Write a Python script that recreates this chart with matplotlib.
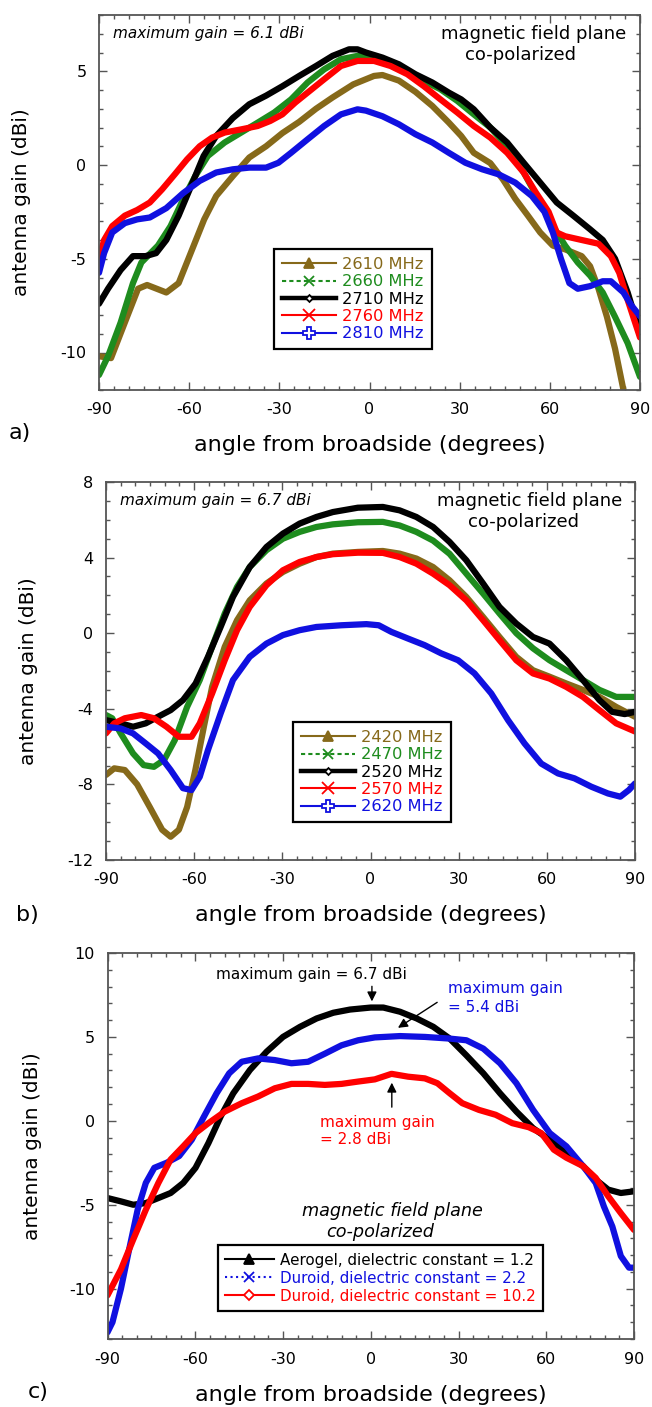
import matplotlib
matplotlib.use("Agg")
import matplotlib.pyplot as plt
from matplotlib.lines import Line2D
import numpy as np

plt.rcParams['font.family'] = ['DejaVu Sans']
plt.rcParams['axes.unicode_minus'] = False

# ---------------- Panel a data ----------------
a_labels = ["2610 MHz", "2660 MHz", "2710 MHz", "2760 MHz", "2810 MHz"]
a_2610_x = [-90, -86, -81.4, -77, -74, -67.6, -63.5, -60, -55, -51, -45.5, -40, -34.4, -29, -23.4, -17.8, -12.3, -5.4, 1.5, 4.3, 9.8, 15.3, 20.9, 26.4, 30.5, 34.7, 40.2, 44.4, 48.5, 52.7, 56.8, 61, 65.1, 70.6, 73.4, 76.2, 79, 81.7, 84.5]
a_2610_y = [-10.2, -10.3, -8.4, -6.6, -6.4, -6.8, -6.3, -4.9, -2.9, -1.65, -0.6, 0.4, 1.0, 1.7, 2.3, 3.0, 3.6, 4.3, 4.75, 4.8, 4.5, 3.9, 3.15, 2.26, 1.55, 0.65, 0.1, -0.77, -1.8, -2.7, -3.6, -4.3, -4.5, -4.86, -5.4, -6.6, -8.1, -9.8, -12.0]
a_2660_x = [-90, -87, -82.8, -78.7, -75.9, -70.4, -66.2, -62, -58, -53.8, -48.2, -42.7, -37.2, -31.7, -26.1, -20.6, -15.1, -9.5, -4, 1.5, 7, 12.6, 18.1, 23.6, 29.2, 34.7, 40.2, 45.8, 51.3, 56.8, 61, 65.1, 69.3, 73.4, 77.6, 81.7, 85.9, 90]
a_2660_y = [-11.2, -10.2, -8.4, -6.3, -5.2, -4.3, -3.26, -1.83, -0.6, 0.48, 1.2, 1.73, 2.26, 2.8, 3.5, 4.4, 5.1, 5.64, 5.82, 5.73, 5.46, 5.0, 4.48, 4.04, 3.42, 2.7, 2.0, 1.0, -0.4, -2.0, -3.26, -4.3, -5.2, -5.9, -6.8, -8.1, -9.5, -11.3]
a_2710_x = [-90, -87, -82.8, -78.7, -74.5, -71, -67.6, -63.5, -59.3, -55.2, -51, -45.5, -40, -34.4, -29, -23.4, -17.8, -12.3, -6.8, -4, -1.2, 4.3, 9.8, 15.3, 20.9, 26.4, 30.5, 34.7, 40.2, 45.8, 51.3, 56.8, 62.3, 67.8, 73.4, 77.6, 81.7, 85.9, 90]
a_2710_y = [-7.4, -6.6, -5.6, -4.86, -4.86, -4.7, -4.0, -2.7, -1.1, 0.48, 1.55, 2.5, 3.24, 3.7, 4.2, 4.75, 5.28, 5.82, 6.17, 6.17, 6.0, 5.73, 5.37, 4.84, 4.4, 3.86, 3.5, 2.97, 2.0, 1.2, 0.12, -0.94, -2.0, -2.7, -3.43, -4.0, -5.0, -6.8, -8.95]
a_2760_x = [-90, -88.3, -85.6, -81.4, -77.3, -73.1, -69, -64.8, -60.7, -56.5, -52.4, -48.2, -42.7, -37.2, -33, -29, -24.7, -20.6, -15.1, -9.5, -4, 1.5, 7, 12.6, 18.1, 23.6, 29.2, 34.7, 40.2, 45.8, 51.3, 55.4, 59.6, 62.3, 65.1, 70.6, 76.2, 80.3, 83.1, 85.9, 90]
a_2760_y = [-5.0, -4.0, -3.26, -2.7, -2.4, -2.0, -1.3, -0.5, 0.3, 1.0, 1.46, 1.73, 1.9, 2.08, 2.35, 2.7, 3.33, 3.86, 4.57, 5.28, 5.55, 5.55, 5.28, 4.84, 4.2, 3.5, 2.8, 2.08, 1.46, 0.65, -0.4, -1.48, -2.5, -3.6, -3.8, -4.0, -4.2, -4.86, -5.75, -7.2, -9.2]
a_2810_x = [-90, -88.3, -85.6, -81.4, -77.3, -73.1, -67.6, -62, -56.5, -51, -45.5, -40, -34.4, -30.3, -26.1, -20.6, -15.1, -9.5, -4, -1.2, 4.3, 9.8, 15.3, 20.9, 26.4, 31.9, 37.5, 43, 48.5, 54, 58.2, 61, 63.7, 66.5, 69.3, 73.4, 77.6, 80.3, 84.5, 87.2, 90]
a_2810_y = [-5.75, -4.7, -3.6, -3.1, -2.9, -2.8, -2.3, -1.5, -0.85, -0.4, -0.23, -0.14, -0.14, 0.12, 0.65, 1.37, 2.08, 2.7, 2.97, 2.9, 2.6, 2.17, 1.64, 1.2, 0.65, 0.12, -0.23, -0.5, -0.94, -1.65, -2.5, -3.6, -5.0, -6.3, -6.6, -6.46, -6.2, -6.2, -6.8, -7.5, -8.06]

# ---------------- Panel b data ----------------
b_labels = ["2420 MHz", "2470 MHz", "2520 MHz", "2570 MHz", "2620 MHz"]
b_2420_x = [-90, -87.2, -83.6, -79.4, -75.1, -70.9, -68, -65.2, -62.4, -59.6, -56.7, -53.9, -49.6, -45.4, -41.1, -35.4, -29.8, -24.1, -18.4, -12.8, -4.3, 4.2, 9.9, 15.6, 21.3, 26.9, 32.6, 38.3, 43.9, 49.6, 55.3, 60.9, 66.6, 72.3, 77.9, 83.6, 90]
b_2420_y = [-7.5, -7.15, -7.24, -8.0, -9.2, -10.4, -10.77, -10.4, -9.2, -7.24, -4.95, -2.84, -0.72, 0.69, 1.74, 2.63, 3.24, 3.68, 4.03, 4.21, 4.3, 4.35, 4.21, 3.95, 3.5, 2.8, 1.92, 0.86, -0.2, -1.25, -1.96, -2.3, -2.66, -3.0, -3.37, -3.9, -4.42]
b_2470_x = [-90, -87.9, -85, -80.8, -77.2, -73.7, -70.2, -66.6, -62.4, -58.1, -53.9, -49.6, -45.4, -41.1, -35.4, -29.8, -24.1, -18.4, -12.8, -4.3, 4.2, 9.9, 15.6, 21.3, 26.9, 32.6, 38.3, 43.9, 49.6, 55.3, 60.9, 66.6, 72.3, 77.9, 83.6, 90]
b_2470_y = [-4.33, -4.5, -5.3, -6.36, -6.98, -7.07, -6.7, -5.66, -3.9, -2.48, -0.72, 1.04, 2.45, 3.5, 4.39, 5.0, 5.36, 5.62, 5.76, 5.87, 5.89, 5.7, 5.36, 4.9, 4.2, 3.15, 2.1, 1.04, 0.0, -0.8, -1.43, -1.96, -2.48, -3.0, -3.37, -3.37]
b_2520_x = [-90, -85, -80.8, -76.5, -72.3, -68, -63.8, -59.5, -55.3, -51, -46.8, -41.1, -35.4, -29.8, -24.1, -18.4, -12.8, -4.3, 4.2, 9.9, 15.6, 21.3, 26.9, 32.6, 38.3, 43.9, 49.6, 55.3, 60.9, 66.6, 72.3, 77.9, 82.2, 86.5, 90]
b_2520_y = [-4.6, -4.77, -4.95, -4.77, -4.42, -4.07, -3.54, -2.66, -1.25, 0.33, 1.92, 3.5, 4.56, 5.27, 5.8, 6.15, 6.41, 6.64, 6.68, 6.5, 6.15, 5.62, 4.83, 3.86, 2.63, 1.39, 0.51, -0.2, -0.55, -1.43, -2.48, -3.54, -4.16, -4.28, -4.16]
b_2570_x = [-90, -87.2, -83.6, -78, -73.7, -69.4, -65.2, -60.9, -58.1, -53.9, -49.6, -45.4, -41.1, -35.4, -29.8, -24.1, -18.4, -12.8, -4.3, 4.2, 9.9, 15.6, 21.3, 26.9, 32.6, 38.3, 43.9, 49.6, 55.3, 60.9, 66.6, 72.3, 77.9, 83.6, 90]
b_2570_y = [-5.3, -4.77, -4.5, -4.33, -4.5, -4.95, -5.48, -5.48, -4.77, -3.19, -1.43, 0.16, 1.39, 2.54, 3.33, 3.77, 4.03, 4.18, 4.26, 4.25, 4.03, 3.68, 3.15, 2.54, 1.74, 0.69, -0.37, -1.43, -2.13, -2.4, -2.84, -3.37, -4.07, -4.77, -5.2]
b_2620_x = [-90, -85, -80.8, -76.5, -72.3, -68, -63.8, -60.9, -58.1, -55.3, -51, -46.8, -41.1, -35.4, -29.8, -24.1, -18.4, -9.9, -1.4, 2.8, 7.1, 12.7, 18.4, 24.1, 29.8, 35.4, 41.1, 46.8, 52.4, 58.1, 63.8, 69.4, 75.1, 80.8, 85, 87.9, 90]
b_2620_y = [-4.95, -5.04, -5.3, -5.83, -6.36, -7.24, -8.2, -8.3, -7.6, -6.18, -4.25, -2.48, -1.25, -0.55, -0.1, 0.16, 0.33, 0.42, 0.48, 0.42, 0.07, -0.28, -0.63, -1.07, -1.43, -2.13, -3.19, -4.6, -5.83, -6.9, -7.42, -7.68, -8.12, -8.48, -8.65, -8.3, -7.95]

# ---------------- Panel c data ----------------
c_labels = ["Aerogel, dielectric constant = 1.2", "Duroid, dielectric constant = 2.2", "Duroid, dielectric constant = 10.2"]
c_aero_x = [-90, -85.4, -81.2, -76.9, -72.6, -68.4, -64.1, -59.9, -55.5, -51.3, -47, -41.3, -35.6, -30, -24.2, -18.5, -12.8, -7.1, 0, 4.3, 10, 15.7, 21.4, 27, 32.7, 38.5, 44.2, 49.8, 55.5, 61.2, 66.9, 72.6, 76.9, 81.2, 85.5, 90]
c_aero_y = [-4.6, -4.8, -5.0, -4.9, -4.6, -4.3, -3.7, -2.8, -1.33, 0.26, 1.64, 3.03, 4.12, 5.0, 5.6, 6.1, 6.44, 6.63, 6.75, 6.75, 6.5, 6.1, 5.6, 4.9, 3.9, 2.83, 1.64, 0.55, -0.44, -1.13, -1.92, -2.7, -3.5, -4.1, -4.3, -4.2]
c_d22_x = [-90, -88.3, -85.4, -82.6, -79.7, -76.9, -74, -69.8, -65.5, -61.2, -57, -52.7, -48.4, -44.1, -38.5, -32.8, -27.1, -21.4, -15.7, -10, -4.3, 1.4, 10, 18.5, 27, 32.7, 38.5, 44.2, 49.8, 55.5, 61.2, 66.9, 72.6, 76.9, 79.7, 82.6, 85.5, 88.3, 90]
c_d22_y = [-12.6, -12.0, -10.0, -7.66, -5.3, -3.7, -2.8, -2.5, -2.1, -1.13, 0.26, 1.64, 2.83, 3.52, 3.72, 3.62, 3.43, 3.52, 4.0, 4.5, 4.8, 4.97, 5.05, 5.0, 4.9, 4.8, 4.3, 3.43, 2.24, 0.65, -0.73, -1.52, -2.7, -3.7, -5.1, -6.3, -8.06, -8.75, -8.75]
c_d102_x = [-90, -85.4, -81.2, -76.9, -72.6, -68.4, -64.1, -59.9, -55.5, -49.9, -44.1, -38.5, -32.8, -27.1, -21.4, -15.7, -10, -4.3, 1.4, 7.1, 12.8, 18.5, 22.8, 27, 31.3, 37, 42.7, 48.4, 54, 58.3, 62.6, 66.9, 72.6, 76.9, 81.2, 85.5, 90]
c_d102_y = [-10.4, -8.85, -7.07, -5.3, -3.7, -2.3, -1.52, -0.73, -0.14, 0.55, 1.05, 1.45, 1.94, 2.2, 2.2, 2.14, 2.2, 2.34, 2.47, 2.8, 2.63, 2.53, 2.24, 1.64, 1.05, 0.65, 0.36, -0.14, -0.38, -0.73, -1.72, -2.2, -2.7, -3.4, -4.5, -5.5, -6.5]

OLIVE = '#86691A'
GREEN = '#1E8C1E'
BLACK = '#000000'
RED = '#FF0000'
BLUE = '#1010E0'
SPINE = '#555555'

fig = plt.figure(figsize=(6.52, 14.07), dpi=100)
W, H = 652.0, 1407.0

def make_ax(left, top, right, bottom):
    return fig.add_axes([left / W, 1 - bottom / H, (right - left) / W, (bottom - top) / H])

def style_ax(ax, ylim, ymaj, ymin, xlab_y, ylab_x):
    ax.set_xlim(-90, 90)
    ax.set_ylim(*ylim)
    ax.set_xticks(np.arange(-90, 91, 30))
    ax.set_xticks(np.arange(-90, 91, 5), minor=True)
    ax.set_yticks(np.arange(ymaj[0], ymaj[1] + 0.1, ymaj[2]))
    ax.set_yticks(np.arange(ylim[0], ylim[1] + 0.1, ymin), minor=True)
    ax.tick_params(which='both', direction='in', top=True, right=True, color=SPINE, width=1.0,
                   labelsize=11.5, pad=9)
    ax.tick_params(which='major', length=5.5)
    ax.tick_params(which='minor', length=3.2)
    for s in ax.spines.values():
        s.set_color(SPINE)
        s.set_linewidth(1.3)
    ax.set_xlabel("angle from broadside (degrees)", fontsize=16)
    ax.set_ylabel("antenna gain (dBi)", fontsize=14.5)
    ax.xaxis.set_label_coords(0.5, xlab_y)
    ax.xaxis.label.set_verticalalignment('center')
    ax.yaxis.set_label_coords(ylab_x, 0.5)
    ax.yaxis.label.set_verticalalignment('center')

LW = 4.5

def legend_handles(styles):
    hs = []
    for c, ls, lw, mk, ms, mfc in styles:
        hs.append(Line2D([0], [0], color=c, ls=ls, lw=lw, marker=mk, ms=ms, mfc=mfc, mec=c, mew=1.3))
    return hs

def add_legend(ax, labels, styles, cols, anchor, fs, hl, ls):
    leg = ax.legend(legend_handles(styles), labels, loc='upper left', bbox_to_anchor=anchor,
                    borderaxespad=0, frameon=True, fancybox=False, edgecolor='black',
                    fontsize=fs, handlelength=hl, handletextpad=0.4, labelspacing=ls,
                    borderpad=0.5, numpoints=1, framealpha=1)
    leg.get_frame().set_linewidth(1.6)
    for t, c in zip(leg.get_texts(), cols):
        t.set_color(c)
    return leg

ab_styles = [(OLIVE, '-', 1.5, '^', 7, OLIVE), (GREEN, (0, (2, 1.5)), 1.5, 'x', 7, GREEN),
             (BLACK, '-', 3.2, 'D', 3.5, 'white'), (RED, '-', 1.5, 'x', 8, RED),
             (BLUE, '-', 1.5, 'P', 8, 'white')]
cols_ab = [OLIVE, GREEN, BLACK, RED, BLUE]

# ---------- Panel a ----------
axa = make_ax(99, 15, 640, 390)
style_ax(axa, (-12, 8), (-10, 5, 5), 1, (390 - 445) / 375, -0.144)
a_series = [(a_2610_x, a_2610_y, OLIVE), (a_2660_x, a_2660_y, GREEN), (a_2710_x, a_2710_y, BLACK),
            (a_2760_x, a_2760_y, RED), (a_2810_x, a_2810_y, BLUE)]
for xs, ys, c in a_series:
    axa.plot(xs, ys, color=c, lw=LW, solid_capstyle='round', solid_joinstyle='round')
axa.text(0.026, 0.95, "maximum gain = 6.1 dBi", transform=axa.transAxes, style='italic',
         fontsize=11, ha='left', va='center')
axa.text(0.975, 0.95, "magnetic field plane", transform=axa.transAxes, fontsize=13, ha='right', va='center')
axa.text(0.78, 0.893, "co-polarized", transform=axa.transAxes, fontsize=13, ha='center', va='center')
fig.text(20 / W, 1 - 433 / H, "a)", fontsize=16, ha='center', va='center')
add_legend(axa, a_labels, ab_styles, cols_ab, ((274 - 99) / 541, (390 - 249) / 375), 11.7, 3.3, 0.14)

# ---------- Panel b ----------
axb = make_ax(106, 482, 635, 860)
style_ax(axb, (-12, 8), (-12, 8, 4), 1, (860 - 915) / 378, -0.147)
b_series = [(b_2420_x, b_2420_y, OLIVE), (b_2470_x, b_2470_y, GREEN), (b_2520_x, b_2520_y, BLACK),
            (b_2570_x, b_2570_y, RED), (b_2620_x, b_2620_y, BLUE)]
for xs, ys, c in b_series:
    axb.plot(xs, ys, color=c, lw=LW, solid_capstyle='round', solid_joinstyle='round')
axb.text(0.026, 0.95, "maximum gain = 6.7 dBi", transform=axb.transAxes, style='italic',
         fontsize=11, ha='left', va='center')
axb.text(0.975, 0.95, "magnetic field plane", transform=axb.transAxes, fontsize=13, ha='right', va='center')
axb.text(0.79, 0.893, "co-polarized", transform=axb.transAxes, fontsize=13, ha='center', va='center')
fig.text(27 / W, 1 - 915 / H, "b)", fontsize=16, ha='center', va='center')
add_legend(axb, b_labels, ab_styles, cols_ab, ((293 - 106) / 529, (860 - 722) / 378), 11.7, 3.3, 0.14)

# ---------- Panel c ----------
axc = make_ax(107.5, 953, 634, 1339)
style_ax(axc, (-13, 10), (-10, 10, 5), 1, (1339 - 1395) / 386, -0.142)
c_series = [(c_aero_x, c_aero_y, BLACK), (c_d22_x, c_d22_y, BLUE), (c_d102_x, c_d102_y, RED)]
for xs, ys, c in c_series:
    axc.plot(xs, ys, color=c, lw=LW, solid_capstyle='round', solid_joinstyle='round')
axc.text(-20.4, 8.7, "maximum gain = 6.7 dBi", fontsize=11, ha='center', va='center', color=BLACK)
axc.annotate("", xy=(0.4, 6.95), xytext=(0.4, 8.18),
             arrowprops=dict(arrowstyle='-|>', color='black', lw=1, mutation_scale=14))
axc.text(26.4, 7.91, "maximum gain", fontsize=11, ha='left', va='center', color=BLUE)
axc.text(26.4, 6.78, "= 5.4 dBi", fontsize=11, ha='left', va='center', color=BLUE)
axc.annotate("", xy=(8.5, 5.45), xytext=(23.5, 7.15),
             arrowprops=dict(arrowstyle='-|>', color='black', lw=1, mutation_scale=14))
axc.text(-17.4, -0.07, "maximum gain", fontsize=11, ha='left', va='center', color=RED)
axc.text(-17.4, -1.14, "= 2.8 dBi", fontsize=11, ha='left', va='center', color=RED)
axc.annotate("", xy=(7.2, 2.44), xytext=(7.2, 0.65),
             arrowprops=dict(arrowstyle='-|>', color='black', lw=1, mutation_scale=14))
axc.text((392 - 107.5) / 526.5, (1339 - 1211) / 386, "magnetic field plane", transform=axc.transAxes,
         style='italic', fontsize=12.7, ha='center', va='center')
axc.text((380 - 107.5) / 526.5, (1339 - 1232) / 386, "co-polarized", transform=axc.transAxes,
         style='italic', fontsize=12.7, ha='center', va='center')
fig.text(38 / W, 1 - 1392 / H, "c)", fontsize=16, ha='center', va='center')
c_styles = [(BLACK, '-', 1.5, '^', 7, BLACK), (BLUE, ':', 1.5, 'x', 7, BLUE), (RED, '-', 1.5, 'D', 5, 'white')]
add_legend(axc, c_labels, c_styles, [BLACK, BLUE, RED], ((217.5 - 107.5) / 526.5, (1339 - 1245) / 386),
           10.9, 3.2, 0.2)

fig.savefig("out.png", dpi=100)
